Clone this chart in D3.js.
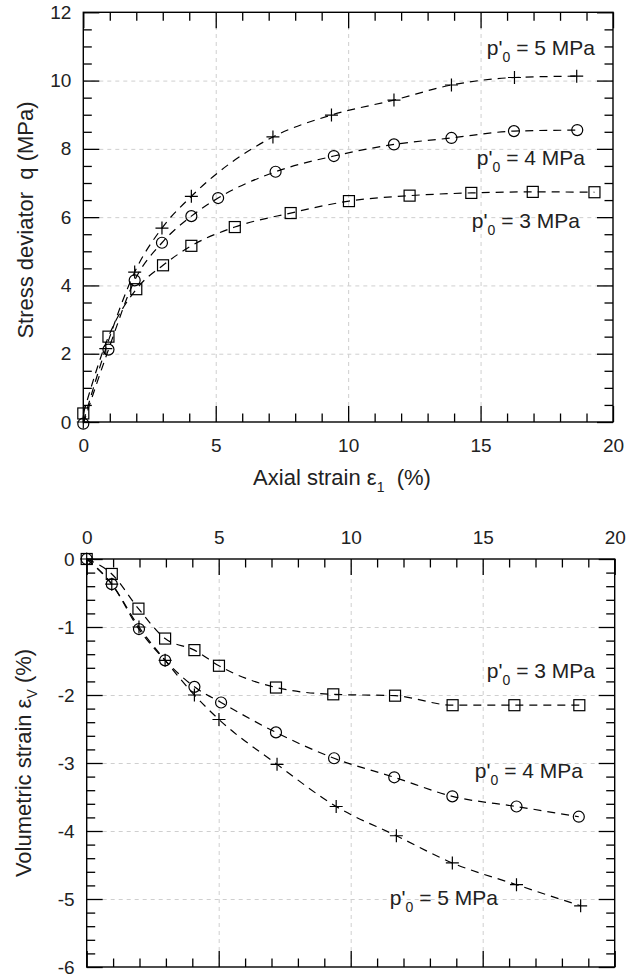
<!DOCTYPE html>
<meta charset="utf-8">
<style>
  body { margin: 0; background: #fff; }
  svg { font-family: "Liberation Sans", Arial, sans-serif; }
  .grid line { stroke: #cfcfcf; stroke-dasharray: 4,4; stroke-width: 1; }
  .grid path { display: none; }
  .tk path { display: none; }
  .tk line { stroke: #000; stroke-width: 1.3; }
  .tk text { font-size: 19px; fill: #222; }
  .frame { fill: none; stroke: #000; stroke-width: 1.4; }
  .curve { fill: none; stroke: #000; stroke-width: 1.2; stroke-dasharray: 8,6; }
  .mk { fill: none; stroke: #000; stroke-width: 1.2; }
  .lab { font-size: 21px; fill: #222; }
  .title { font-size: 22px; fill: #222; }
</style>
<body>
<script src="https://d3js.org/d3.v7.min.js"></script>
<script>

// ---- data: stress deviator q (MPa) vs axial strain (%)
var qStrain5 = [0, 0.85, 1.94, 2.97, 4.08, 7.16, 9.37, 11.73, 13.9, 16.28, 18.63];
var q5 = [0, 2.15, 4.39, 5.68, 6.61, 8.35, 8.99, 9.43, 9.87, 10.09, 10.13];
var qStrain4 = [0, 0.95, 1.94, 2.97, 4.08, 5.09, 7.26, 9.46, 11.73, 13.9, 16.26, 18.65];
var q4 = [-0.05, 2.12, 4.15, 5.25, 6.03, 6.56, 7.33, 7.79, 8.13, 8.32, 8.52, 8.55];
var qStrain3 = [0, 0.95, 2.0, 3.01, 4.08, 5.72, 7.83, 10.03, 12.32, 14.65, 16.97, 19.3];
var q3 = [0.25, 2.5, 3.89, 4.59, 5.16, 5.71, 6.12, 6.47, 6.63, 6.71, 6.74, 6.73];

// ---- data: volumetric strain (%) vs axial strain (%)
var vStrain3 = [0, 0.95, 1.96, 2.97, 4.08, 5.01, 7.17, 9.34, 11.68, 13.86, 16.2, 18.66];
var ev3 = [0, -0.22, -0.73, -1.17, -1.34, -1.57, -1.89, -1.99, -2.01, -2.15, -2.15, -2.15];
var vStrain4 = [0, 0.95, 1.98, 2.97, 4.08, 5.09, 7.17, 9.37, 11.65, 13.85, 16.28, 18.64];
var ev4 = [0, -0.37, -1.03, -1.49, -1.88, -2.11, -2.55, -2.93, -3.21, -3.49, -3.64, -3.79];
var vStrain5 = [0, 0.95, 1.98, 2.97, 4.08, 5.01, 7.21, 9.45, 11.73, 13.85, 16.28, 18.71];
var ev5 = [0, -0.37, -1.0, -1.49, -2.0, -2.36, -3.02, -3.64, -4.07, -4.47, -4.79, -5.10];

var xMajor = [0, 5, 10, 15, 20];
var qMajor = [0, 2, 4, 6, 8, 10, 12];
var evMajor = [0, -1, -2, -3, -4, -5, -6];
var legendLabels = ["5", "4", "3"];

var svg = d3.select("body").append("svg")
  .attr("width", 628).attr("height", 976);

function zip(xs, ys) { return xs.map(function (v, i) { return [v, ys[i]]; }); }
var plain = function (d) { return String(d); };   // hyphen minus like the original

// draw ticks on all four sides, inward
function frameAxes(x, y, xMinor, yMinor, yMajor, labelTop) {
  var x0 = x.range()[0], x1 = x.range()[1], y0 = y.range()[0], y1 = y.range()[1];
  var h = y0 - y1, w = x1 - x0;

  // grid
  svg.append("g").attr("class", "grid").attr("transform", "translate(0," + y0 + ")")
    .call(d3.axisBottom(x).tickValues(xMajor.slice(1, -1)).tickSize(-h).tickFormat(""));
  svg.append("g").attr("class", "grid").attr("transform", "translate(" + x0 + ",0)")
    .call(d3.axisLeft(y).tickValues(yMajor.slice(1, -1)).tickSize(-w).tickFormat(""));

  // bottom
  svg.append("g").attr("class", "tk").attr("transform", "translate(0," + y0 + ")")
    .call(d3.axisBottom(x).tickValues(xMajor).tickSize(-16).tickPadding(17)
      .tickFormat(labelTop ? "" : plain));
  svg.append("g").attr("class", "tk").attr("transform", "translate(0," + y0 + ")")
    .call(d3.axisBottom(x).tickValues(xMinor).tickSize(-8.5).tickFormat(""));
  // top
  svg.append("g").attr("class", "tk").attr("transform", "translate(0," + y1 + ")")
    .call(d3.axisTop(x).tickValues(xMajor).tickSize(-16).tickPadding(15)
      .tickFormat(labelTop ? plain : ""));
  svg.append("g").attr("class", "tk").attr("transform", "translate(0," + y1 + ")")
    .call(d3.axisTop(x).tickValues(xMinor).tickSize(-8.5).tickFormat(""));
  // left
  svg.append("g").attr("class", "tk").attr("transform", "translate(" + x0 + ",0)")
    .call(d3.axisLeft(y).tickValues(yMajor).tickSize(-16).tickPadding(12).tickFormat(plain));
  svg.append("g").attr("class", "tk").attr("transform", "translate(" + x0 + ",0)")
    .call(d3.axisLeft(y).tickValues(yMinor).tickSize(-8.5).tickFormat(""));
  // right
  svg.append("g").attr("class", "tk").attr("transform", "translate(" + x1 + ",0)")
    .call(d3.axisRight(y).tickValues(yMajor).tickSize(-16).tickFormat(""));
  svg.append("g").attr("class", "tk").attr("transform", "translate(" + x1 + ",0)")
    .call(d3.axisRight(y).tickValues(yMinor).tickSize(-8.5).tickFormat(""));

  svg.append("rect").attr("class", "frame")
    .attr("x", x0).attr("y", y1).attr("width", w).attr("height", h);
}

function series(x, y, pts, shape) {
  var line = d3.line().x(function (d) { return x(d[0]); }).y(function (d) { return y(d[1]); })
    .curve(d3.curveMonotoneX);
  svg.append("path").attr("class", "curve").attr("d", line(pts));
  var g = svg.append("g").selectAll("g").data(pts).join("g")
    .attr("transform", function (d) { return "translate(" + x(d[0]) + "," + y(d[1]) + ")"; });
  if (shape === "circle") g.append("circle").attr("class", "mk").attr("r", 5.5);
  if (shape === "square") g.append("rect").attr("class", "mk")
    .attr("x", -5.5).attr("y", -5.5).attr("width", 11).attr("height", 11);
  if (shape === "plus") g.append("path").attr("class", "mk").attr("d", "M-6.5,0H6.5M0,-6.5V6.5");
}

function pLabel(px, py, val) {
  var t = svg.append("text").attr("class", "lab").attr("x", px).attr("y", py)
    .attr("text-anchor", "end");
  t.append("tspan").text("p'");
  t.append("tspan").attr("dy", 7).style("font-size", "14px").text("0");
  t.append("tspan").attr("dy", -7).text(" = " + val + " MPa");
}

// ---------- top panel
var x1 = d3.scaleLinear().domain([0, 20]).range([83.3, 613]);
var y1 = d3.scaleLinear().domain([0, 12]).range([422, 12.3]);
frameAxes(x1, y1, d3.range(1, 20).filter(function (v) { return v % 5; }),
  d3.range(0.5, 12, 0.5).filter(function (v) { return v % 2; }), qMajor, false);

series(x1, y1, zip(qStrain5, q5), "plus");
series(x1, y1, zip(qStrain4, q4), "circle");
series(x1, y1, zip(qStrain3, q3), "square");

pLabel(595, 55, legendLabels[0]);
pLabel(585, 165, legendLabels[1]);
pLabel(580, 228, legendLabels[2]);

var xt = svg.append("text").attr("class", "title").attr("x", 342).attr("y", 485)
  .attr("text-anchor", "middle").style("white-space", "pre");
xt.append("tspan").text("Axial strain \u03b5");
xt.append("tspan").attr("dy", 7).style("font-size", "14px").text("1");
xt.append("tspan").attr("dy", -7).text("  (%)");

svg.append("text").attr("class", "title").attr("text-anchor", "middle")
  .attr("transform", "translate(33,220) rotate(-90)")
  .style("white-space", "pre")
  .text("Stress deviator  q (MPa)");

// ---------- bottom panel
var x2 = d3.scaleLinear().domain([0, 20]).range([86.7, 614.7]);
var y2 = d3.scaleLinear().domain([-6, 0]).range([967, 559]);
frameAxes(x2, y2, d3.range(1, 20).filter(function (v) { return v % 5; }),
  d3.range(-5.8, 0, 0.2).map(function (v) { return Math.round(v * 10) / 10; })
    .filter(function (v) { return Math.abs(v - Math.round(v)) > 0.01; }), evMajor, true);

series(x2, y2, zip(vStrain3, ev3), "square");
series(x2, y2, zip(vStrain4, ev4), "circle");
series(x2, y2, zip(vStrain5, ev5), "plus");

pLabel(595, 678, legendLabels[2]);
pLabel(583, 778, legendLabels[1]);
pLabel(498, 905, legendLabels[0]);

var yt = svg.append("text").attr("class", "title").attr("text-anchor", "middle")
  .attr("transform", "translate(31,763) rotate(-90)");
yt.append("tspan").text("Volumetric strain \u03b5");
yt.append("tspan").attr("dy", 6).style("font-size", "14px").text("V");
yt.append("tspan").attr("dy", -6).text(" (%)");

</script>
</body>
